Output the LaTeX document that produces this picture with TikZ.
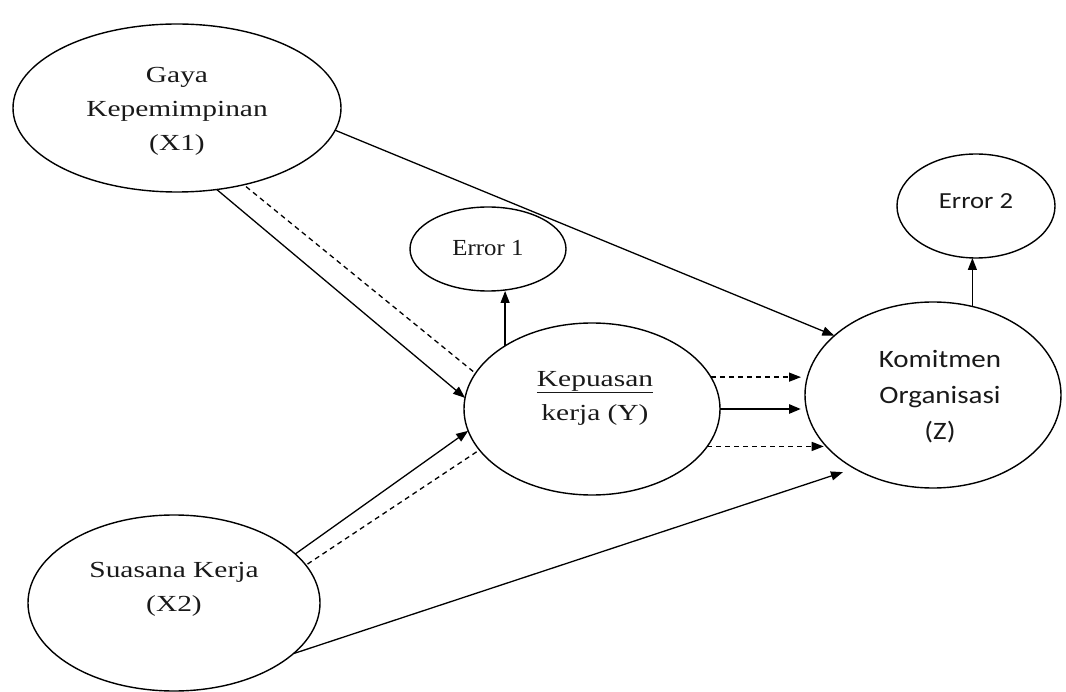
\documentclass[tikz,border=0pt]{standalone}
\usepackage{fontspec}
\setmainfont{Liberation Serif}
\newfontfamily\serifwide[FakeStretch=1.28]{Liberation Serif}
\newfontfamily\serifnarrow[FakeStretch=1.08]{Liberation Serif}
\newfontfamily\sanswide[FakeStretch=1.16]{Carlito}
\usetikzlibrary{shapes.geometric,arrows.meta}

\begin{document}
\begin{tikzpicture}[x=1pt,y=-1pt,
  var/.style={ellipse,draw,line width=1.4pt,inner sep=0pt,outer sep=0pt},
  lbl/.style={align=center,inner sep=0pt,text=black!90},
  serlbl/.style={lbl,font=\serifwide\fontsize{23}{34}\selectfont},
  sanlbl/.style={lbl,font=\sanswide\fontsize{25}{36}\selectfont},
  conn/.style={line width=1.3pt,-{Triangle[length=12pt,width=9pt]}},
  dashconn/.style={conn,dash pattern=on 5pt off 4pt},
  dashline/.style={line width=1.3pt,dash pattern=on 5pt off 4pt}
]
\useasboundingbox (0,0) rectangle (1066,692);

% latent variables and error terms
\node[var,minimum width=328pt,minimum height=168pt] (x1) at (177,108) {};
\node[var,minimum width=292pt,minimum height=176pt] (x2) at (174,603) {};
\node[var,minimum width=256pt,minimum height=172pt] (y)  at (592,409) {};
\node[var,minimum width=256pt,minimum height=186pt] (z)  at (933,395) {};
\node[var,minimum width=156pt,minimum height=84pt]  (e1) at (488,249) {};
\node[var,minimum width=158pt,minimum height=104pt] (e2) at (976,206) {};

% labels
\node[serlbl] (x1t) at (177,111) {Gaya\\Kepemimpinan\\(X1)};
\node[serlbl] (x2t) at (174,589) {Suasana Kerja\\(X2)};
\node[serlbl] (yt)  at (595,398) {\underline{Kepuasan}\\kerja (Y)};
\node[sanlbl] (zt)  at (940,397) {Komitmen\\Organisasi\\(Z)};
\node[lbl,font=\serifnarrow\fontsize{23}{26}\selectfont] (e1t) at (488,248) {Error 1};
\node[lbl,font=\sanswide\fontsize{23}{28}\selectfont]  (e2t) at (976,201) {Error 2};

% direct paths
\draw[conn] (x1.-8) -- (z.149);
\draw[conn] (x1.-64) -- (y.175);
\draw[dashline,shorten <=3pt,shorten >=3pt] (x1.-49) -- (y.163);
\draw[conn] (x2.22) -- (y.190);
\draw[dashline,shorten <=2pt] (x2.16) -- (y.200);
\draw[conn,shorten >=12pt] (x2.-23) -- (z.223);

% Y to Z
\draw[dashconn,shorten >=4pt] (y.15) -- (y.15 -| z.west);
\draw[conn,line width=2.6pt,shorten >=4pt] (y.east) -- (y.east -| z.west);
\draw[dashconn,shorten >=3pt] (y.-18) -- (y.-18 -| z.206);

% error terms
\draw[conn] (y.144) -- (y.144 |- e1.south);
\draw[conn] (z.66) -- (z.66 |- e2.south);
\end{tikzpicture}
\end{document}
